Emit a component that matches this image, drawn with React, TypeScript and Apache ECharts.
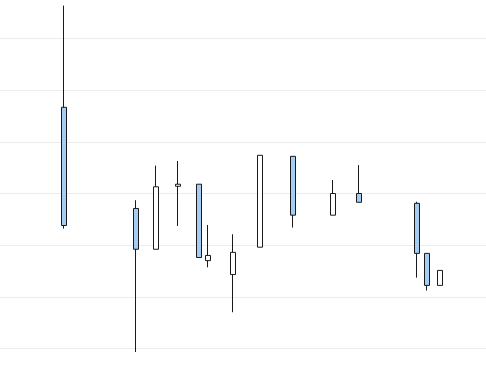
import React, { useEffect, useRef } from "react";
import * as echarts from "echarts";

// x position of each candle (arbitrary day units)
const days = [13.2, 28.0, 32.1, 36.6, 40.9, 42.8, 47.9, 53.5, 60.3, 68.5, 73.9, 85.8, 87.9, 90.5];
const opens = [146.7, 127.1, 119.2, 131.4, 131.8, 117.0, 114.3, 119.6, 137.2, 125.8, 130.0, 128.1, 118.4, 112.2];
const closes = [123.8, 119.2, 131.3, 131.8, 117.6, 118.0, 118.6, 137.4, 125.8, 130.0, 128.3, 118.4, 112.2, 115.1];
const lows = [123.2, 99.3, 119.2, 123.7, 117.6, 115.7, 107.0, 119.6, 123.4, 125.8, 128.3, 113.7, 111.2, 112.2];
const highs = [166.4, 128.7, 135.4, 136.3, 131.8, 123.9, 122.1, 137.4, 137.2, 132.6, 135.5, 128.4, 118.4, 115.1];

export default function App() {
  const ref = useRef<HTMLDivElement>(null);
  useEffect(() => {
    if (!ref.current) return;
    const chart = echarts.init(ref.current, undefined, { renderer: "svg" });
    const data = days.map((d, i) => [d, opens[i], closes[i], lows[i], highs[i]]);
    chart.setOption({
      animation: false,
      grid: { left: 0, right: 0, top: 0, bottom: 0 },
      xAxis: {
        type: "value",
        min: 0,
        max: 100,
        axisLine: { show: false },
        axisTick: { show: false },
        axisLabel: { show: false },
        splitLine: { show: false },
      },
      yAxis: {
        type: "value",
        min: 90,
        max: 170,
        interval: 10,
        axisLine: { show: false },
        axisTick: { show: false },
        axisLabel: { show: false },
        splitLine: { show: true, lineStyle: { color: "#ececec", width: 1 } },
      },
      series: [
        {
          type: "candlestick",
          barWidth: 6,
          encode: { x: 0, y: [1, 2, 3, 4] },
          data,
          itemStyle: {
            color: "#ffffff",
            color0: "#a5cdf4",
            borderColor: "#1a1a1a",
            borderColor0: "#1a1a1a",
            borderWidth: 1,
          },
        },
      ],
    });
    return () => chart.dispose();
  }, []);
  return (
    <div
      ref={ref}
      style={{ position: "fixed", left: 0, top: -13, width: 486, height: 413 }}
    />
  );
}
